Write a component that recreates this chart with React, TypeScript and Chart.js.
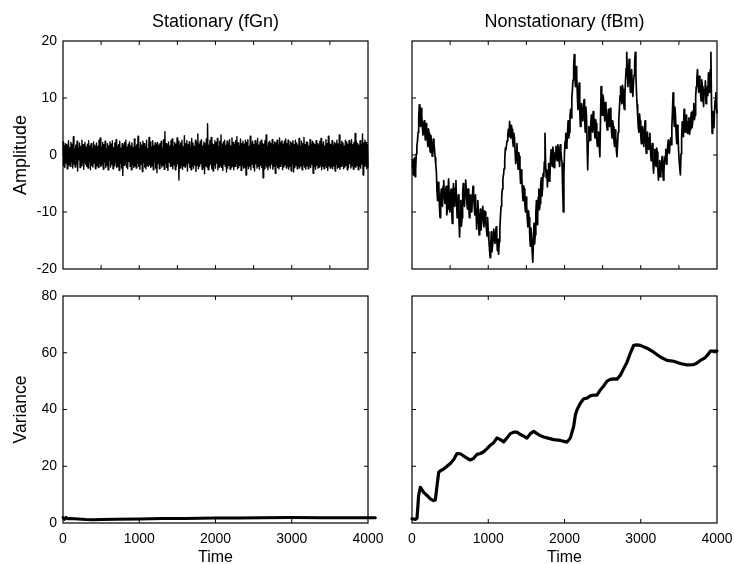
import React, { useEffect, useRef } from 'react';
import { Chart, registerables } from 'chart.js';

Chart.register(...registerables);
Chart.defaults.font.family = "'Liberation Sans', Arial, Helvetica, sans-serif";
Chart.defaults.color = '#000';

// ---------------- data ----------------
const panelTitles = ['Stationary (fGn)', 'Nonstationary (fBm)'];
const yAxisTitles = ['Amplitude', 'Variance'];
const xAxisTitle = 'Time';

// stationary fractional Gaussian noise, one value every FGN_STEP samples
const FGN_STEP = 8;
const fgnValues = [
  2.3, -1.9, 1.6, -2.2, 2.0, -1.4, 1.8, -2.4, 0.9, 2.5, -1.7, 1.3, -2.0, 2.2, -1.2, 1.9, -2.3, 3.2, -1.6, 1.1,
  -2.1, 1.7, -1.5, 2.4, -2.8, 1.2, -0.8, 2.1, -2.2, 1.5, -1.9, 2.6, -1.3, 1.8, -2.5, 0.7, 2.2, -1.6, 1.4, -2.0,
  1.9, -2.3, 2.5, -1.1, 1.6, -2.6, 2.0, -1.8, 1.2, -2.1, 2.3, -1.4, 1.7, -2.4, 0.8, 2.1, -1.9, 1.5, -2.2, 2.6,
  -1.5, 3.0, -2.0, 1.4, -1.7, 2.2, -2.5, 1.8, -1.2, 2.4, -2.2, 1.1, -1.8, 2.0, -2.6, 1.6, -0.9, 2.3, -2.1, 1.9,
  -1.6, 2.5, -2.4, 1.3, -1.9, 2.1, -1.3, 2.7, -2.2, 1.5, -2.0, 1.8, -2.7, 2.4, -1.4, 1.2, -2.3, 2.0, -3.6, 1.7,
  -1.8, 2.2, -1.5, 2.6, -2.1, 1.4, -2.4, 1.9, -1.1, 2.3, -2.0, 1.6, -2.6, 2.1, -1.7, 1.3, -2.2, 2.8, -1.9, 1.5,
  -2.3, 1.8, -1.4, 3.3, -2.0, 1.2, -2.5, 2.2, -1.6, 1.7, -2.9, 2.4, -1.3, 2.0, -2.1, 1.5, -2.4, 2.6, -1.8, 1.1,
  -2.0, 3.1, -1.7, 2.3, -2.2, 1.4, -1.9, 2.5, -2.6, 1.6, -1.2, 2.1, -2.3, 1.9, -3.1, 2.2, -1.5, 1.7, -2.4, 2.0,
  -1.6, 2.4, -2.1, 1.3, -1.8, 2.7, -2.5, 4.1, -1.4, 2.0, -2.2, 1.8, -2.7, 2.3, -1.3, 1.6, -2.0, 2.5, -1.9, 2.8,
  -2.4, 1.5, -1.7, 2.2, -2.6, 1.9, -2.0, 3.0, -1.5, 2.4, -4.4, 1.7, -2.3, 2.1, -1.8, 2.6, -2.5, 1.4, -1.9, 3.4,
  -2.1, 2.0, -1.6, 2.5, -2.8, 1.8, -1.4, 2.3, -2.2, 1.6, -2.6, 2.9, -1.9, 2.1, -2.3, 1.5, -1.7, 2.6, -2.9, 2.2,
  -1.8, 3.7, -2.4, 1.9, -2.0, 2.4, -1.5, 2.7, -2.5, 1.6, -2.2, 2.3, -3.3, 2.0, -1.9, 2.8, -2.1, 5.5, -2.6, 1.7,
  -2.0, 2.6, -1.6, 3.1, -2.4, 2.0, -2.8, 1.8, -1.7, 2.5, -2.3, 2.2, -1.4, 2.9, -2.6, 1.5, -2.1, 2.4, -1.8, 3.5,
  -2.2, 1.9, -2.7, 2.3, -1.6, 2.6, -2.0, 1.7, -3.0, 2.4, -2.3, 2.0, -1.8, 2.7, -2.5, 1.6, -2.1, 3.0, -1.9, 2.2,
  -2.6, 1.8, -2.0, 2.5, -1.5, 3.2, -2.4, 2.1, -2.2, 1.6, -1.8, 2.8, -2.7, 2.0, -1.7, 2.4, -2.3, 1.9, -2.1, 2.6,
  -3.5, 2.2, -1.9, 2.7, -2.4, 1.5, -2.0, 3.3, -2.6, 2.1, -1.6, 2.4, -2.2, 1.8, -2.8, 2.5, -1.5, 2.0, -2.3, 2.9,
  -2.0, 1.7, -2.5, 2.3, -1.8, 2.6, -2.2, 2.0, -4.0, 1.9, -2.4, 2.5, -1.7, 3.5, -2.1, 1.6, -2.6, 2.2, -1.9, 2.4,
  -2.3, 2.0, -1.6, 2.7, -2.5, 1.8, -2.0, 2.3, -3.2, 2.1, -1.8, 2.6, -2.2, 1.7, -2.4, 3.0, -2.0, 2.2, -1.5, 2.5,
  -2.6, 1.9, -2.1, 2.4, -1.7, 2.8, -2.3, 2.0, -1.9, 2.6, -2.5, 1.6, -2.0, 2.3, -2.8, 2.1, -1.6, 2.5, -3.0, 1.8,
  -2.2, 2.6, -1.8, 2.1, -2.4, 1.7, -2.0, 2.9, -2.3, 1.5, -1.9, 2.4, -2.6, 2.0, -1.7, 3.1, -2.1, 1.8, -2.5, 2.3,
  -1.9, 2.2, -2.4, 1.6, -2.0, 2.7, -2.2, 1.9, -1.6, 2.4, -3.2, 2.1, -2.0, 1.8, -2.5, 2.5, -1.8, 2.0, -2.3, 1.7,
  -2.1, 2.4, -1.7, 2.9, -2.6, 1.9, -2.0, 2.3, -2.4, 1.6, -1.8, 2.7, -2.2, 2.0, -2.7, 3.3, -1.9, 2.1, -2.3, 1.8,
  -2.0, 2.5, -2.4, 1.7, -1.9, 2.2, -2.8, 2.0, -1.6, 2.6, -2.3, 1.9, -2.1, 3.5, -2.5, 1.8, -2.0, 2.4, -1.7, 2.1,
  -2.4, 1.6, -2.1, 2.6, -1.8, 2.3, -2.6, 1.9, -2.2, 2.5, -1.5, 2.0, -2.3, 2.7, -1.9, 1.8, -2.5, 2.2, -2.0, 3.8,
  -2.2, 2.4, -1.8, 2.0, -2.6, 1.7, -2.0, 2.5, -2.3, 1.9, -1.6, 3.7, -3.5, 2.1, -2.0, 2.6, -1.7, 2.2, -2.4, 1.8,
  -2.1, 2.5, -1.9, 2.0, -2.5, 1.7, -2.2, 3.2, -1.8, 2.3, -2.0, 1.9, 0.5,
];

// nonstationary fractional Brownian motion, one value every FBM_STEP samples
const FBM_STEP = 8;
const fbmValues = [
  -2, -0.8, -3.5, -1.5, -0.5, -3.8, -2.5, 0.2, 1.5, 2.5, 4, 6.5, 8.8, 6.2, 5, 8.2, 7, 4.8, 3.5, 5.2,
  6, 3.8, 2.6, 5.5, 4.5, 2.8, 1.5, 4.6, 3.8, 1.2, 0.5, 3.4, 2.2, -0.2, 0, 2.8, 2, 0.8, -0.5, -1.8,
  -3, -6.5, -8, -4.8, -5.5, -9, -11, -7.5, -6, -8, -9, -5.5, -4.5, -7.2, -8.5, -6.5, -5.5, -10.5, -9.5, -6.8,
  -4.2, -7.5, -10, -7.8, -6, -9.5, -12, -8, -5, -7.8, -9, -5.8, -4.5, -8.2, -11, -8.6, -7, -11.5, -14.4, -10,
  -8, -12.5, -11, -7, -5, -6.8, -9, -6.5, -4.4, -6, -8.5, -9.5, -6, -8.2, -11, -8.4, -7, -9, -10, -7.2,
  -5.5, -7, -9, -10.5, -7, -9.6, -13, -10.4, -8, -11, -14, -11.8, -9.5, -13.2, -12, -10.2, -9, -11.2, -12.6, -9.8,
  -10, -11.8, -13, -14.2, -11, -13.5, -15, -16.5, -18, -15.8, -13.5, -17, -16, -14.4, -13, -14.8, -15.5, -13.8, -12.6, -15,
  -16.8, -14.8, -17.4, -15.2, -13, -10.8, -9, -7.5, -6, -4.2, -3.5, -2.4, -1, 1.2, 0.9, 1.8, 2.5, 3.6, 4.5, 3.2,
  5.9, 4.2, 3, 5.2, 4.5, 2.6, 1.5, 3.8, 3, 0.6, -1.5, 0.8, 2, -0.8, -2.5, 0.4, -0.3, -2.8, -5, -2.6,
  -4, -6.4, -8, -5.4, -6, -8.6, -10, -7.4, -9, -11.2, -12.6, -9.8, -11, -14, -16, -12.8, -14, -17, -18.8, -15.5,
  -12, -15.6, -14, -10.2, -8, -12.2, -11, -7.4, -6, -9.6, -8.5, -5.2, -4, -7.2, -6, -3.2, -3.8, -1.2, 3.8, -1.5,
  -4, -2.6, -5.6, -3, -1.5, -4.6, -4, -0.8, 0.9, -1.2, -2, 1.4, 0.5, -2.2, -1.5, 0.4, 1.5, -0.6, -1, 1.8,
  1.2, -0.8, -2, 1.8, 0.8, -0.6, -1.5, -6, -10, -3.5, 0.5, 2.4, 3.8, 1.2, 2, 4.2, 6, 3, 4, 6.8,
  8, 6.5, 10, 11.5, 13.2, 15.5, 17.6, 13.8, 12, 15.5, 14, 10.8, 8, 10.5, 12.6, 7.8, 5, 7.5, 9, 6.2,
  6, 8.2, 9.7, 6.6, 4, 8.4, 7, 2.2, -2.6, 2.4, 5, 3.6, 2.6, 5.4, 7, 5.2, 4, 7.6, 6.8, 4.4,
  3, 6.2, 5.5, 2.6, 1.5, 3, 4, 1.4, -0.3, 6, 12, 8.4, 7, 10.5, 9.7, 7.4, 6, 9.2, 8.5, 5.6,
  4.4, 6.6, 8, 5.8, 5, 8.2, 7, 4.2, 3, 6, 5, 2.6, 1.5, 4.4, 3.5, 0.8, -0.3, 2, 4, 6.2,
  8, 10.4, 12, 9.8, 9, 12.2, 11.5, 9.2, 8, 10.6, 13, 15.2, 18, 14.6, 12, 15, 16.8, 13.2, 11, 13.8,
  15, 12.4, 10.3, 12.6, 14, 16.2, 18, 14.2, 11, 8.8, 6.8, 4.8, 4, 7.2, 6, 3.4, 2, 4.2, 5, 2.8,
  1.5, 4.2, 6, 2.4, 0.3, 2.6, 4, 1.8, 1, 3, 3.8, 0.8, -1, 0.4, 2, -1.2, -3.2, -0.8, 1, -1.4,
  -2, 1.2, 0.5, -2.2, -4.4, -2.4, -1, -3.8, -3, -1.4, -0.3, -2.6, -4.4, -2.8, -1, -0.2, 1, -1.6, -0.5, 1.4,
  2.6, 0.4, 0.3, 2.2, 3, 1.8, 5, 7.6, 10.9, 7.2, 5, 8.4, 6.8, 3.8, 2, 5.2, 4, 0.8, -1, -2.4,
  -3.5, 0.2, 3, 5.8, 5, 3.2, 8, 5.6, 4, 6.2, 7, 4.8, 3.8, 5.8, 6.5, 3.6, 4.5, 6.4, 7.5, 4.8,
  5.5, 7.8, 9, 6.2, 7, 10.2, 12, 13.4, 15, 12.6, 11, 13.8, 12.6, 10.8, 9.5, 13.2, 12, 10, 8.5, 11.5,
  11, 13, 9, 10.8, 12, 10.4, 14.4, 12.2, 11, 15, 18, 9, 3.8, 7.6, 6, 4.8, 8, 9.6, 10.9, 8.2,
  7.4, 11.2, 10, 7.2, 6, 9.4, 8, 5.2, 4, 7.4, 6.5, 4, 2,
];

// running variance of the stationary series
const varStatTimes = [0, 20, 40, 60, 100, 200, 300, 400, 500, 700, 1000, 1300, 1600, 2000, 2300, 2600, 3000, 3400, 3800, 4096];
const varStatValues = [1.9, 1.3, 2.0, 1.5, 1.6, 1.4, 1.2, 1.15, 1.2, 1.3, 1.45, 1.55, 1.6, 1.75, 1.8, 1.85, 1.9, 1.85, 1.85, 1.85];

// running variance of the nonstationary series
const varNonTimes = [
  0, 44, 66, 87, 109, 153, 197, 240, 284, 306, 328, 350, 372, 415, 459, 503, 547, 590, 634, 678,
  721, 765, 809, 853, 896, 940, 984, 1027, 1071, 1115, 1159, 1202, 1246, 1290, 1333, 1377, 1421, 1465, 1508, 1552,
  1596, 1640, 1683, 1727, 1771, 1858, 1946, 2033, 2077, 2120, 2142, 2164, 2208, 2252, 2295, 2339, 2383, 2426, 2470, 2514,
  2558, 2601, 2645, 2689, 2732, 2776, 2820, 2864, 2907, 2951, 2995, 3082, 3170, 3257, 3345, 3432, 3519, 3607, 3694, 3738,
  3782, 3847, 3891, 3913, 3957, 4000, 4096,
];
const varNonValues = [
  1.5, 1.3, 1.7, 9.7, 12.6, 10.8, 9.7, 8.5, 7.9, 8.1, 13.1, 17.8, 18.4, 19, 20, 21, 22.4, 24.5, 24.4, 23.6,
  22.9, 22.2, 22.8, 24.2, 24.5, 25.1, 26.2, 27.4, 28.3, 30, 29.4, 28.6, 30, 31.5, 32, 32, 31.2, 30.6, 29.9, 31.5,
  32.3, 31.5, 30.8, 30.3, 30, 29.4, 29.1, 28.5, 30, 34, 38, 39.9, 42.2, 43.8, 44, 44.8, 45.1, 45.1, 46.9, 48.3,
  50, 50.6, 50.8, 50.7, 52.1, 54.4, 56.7, 59.9, 62.6, 62.8, 62.6, 61.6, 60.2, 58.5, 57.3, 57, 56.2, 55.7, 55.8, 56.4,
  57.3, 58.3, 59.7, 60.6, 60.6, 60.6, 60.3,
];

// axes
const X_MAX = 4000;
const topXTickStep = 500;
const bottomXTickStep = 1000;
const ampRange = [-20, 20];
const ampTickStep = 10;
const varRange = [0, 80];
const varTickStep = 20;

// ---------------- chart building ----------------
const W = 734;
const H = 564;

type Area = { left: number; top: number; right: number; bottom: number };
type Panel = {
  area: Area;
  points: { x: number; y: number }[];
  lineWidth: number;
  yRange: number[];
  yStep: number;
  xStep: number;
  showXLabels: boolean;
  showYLabels: boolean;
  title?: string;
  yTitle?: string;
  yTitleSize?: number;
  xTitle?: string;
};

const boxPlugin = {
  id: 'matlabBox',
  afterDraw(chart: any) {
    const { ctx, chartArea: a, scales } = chart;
    const len = 4;
    ctx.save();
    ctx.strokeStyle = '#000';
    ctx.lineWidth = 1.2;
    ctx.strokeRect(a.left, a.top, a.right - a.left, a.bottom - a.top);
    ctx.lineWidth = 1;
    ctx.beginPath();
    scales.x.ticks.forEach((t: any) => {
      const px = scales.x.getPixelForValue(t.value);
      if (px <= a.left + 1 || px >= a.right - 1) return;
      ctx.moveTo(px, a.bottom);
      ctx.lineTo(px, a.bottom - len);
      ctx.moveTo(px, a.top);
      ctx.lineTo(px, a.top + len);
    });
    scales.y.ticks.forEach((t: any) => {
      const py = scales.y.getPixelForValue(t.value);
      if (py <= a.top + 1 || py >= a.bottom - 1) return;
      ctx.moveTo(a.left, py);
      ctx.lineTo(a.left + len, py);
      ctx.moveTo(a.right, py);
      ctx.lineTo(a.right - len, py);
    });
    ctx.stroke();
    ctx.restore();
  },
};

function makeConfig(p: Panel): any {
  const yWidth = p.showYLabels ? p.area.left : 0;
  const xHeight = p.showXLabels ? H - p.area.bottom : 0;
  const padTop = p.title ? 11.5 : p.area.top;
  const yTitleSize = p.yTitleSize || 17;
  return {
    type: 'line',
    data: {
      datasets: [
        {
          data: p.points,
          borderColor: '#000',
          borderWidth: p.lineWidth,
          pointRadius: 0,
          fill: false,
          tension: 0,
          clip: false,
          borderJoinStyle: 'round',
          borderCapStyle: 'round',
        },
      ],
    },
    options: {
      animation: false,
      responsive: false,
      devicePixelRatio: 1,
      events: [],
      layout: {
        padding: {
          left: p.showYLabels ? 0 : p.area.left,
          right: W - p.area.right,
          top: padTop,
          bottom: p.showXLabels ? 0 : H - p.area.bottom,
        },
      },
      plugins: {
        legend: { display: false },
        tooltip: { enabled: false },
        title: {
          display: !!p.title,
          text: p.title || '',
          fullSize: false,
          color: '#000',
          font: { size: 18, weight: 'normal' },
          padding: { top: 0, bottom: 7.9 },
        },
      },
      scales: {
        x: {
          type: 'linear',
          min: 0,
          max: X_MAX,
          grid: { display: false, drawTicks: false },
          border: { display: false },
          ticks: {
            display: p.showXLabels,
            stepSize: p.xStep,
            autoSkip: false,
            maxRotation: 0,
            padding: 7.5,
            font: { size: 14 },
            color: '#000',
            callback: (v: number) => String(v),
          },
          title: {
            display: !!p.xTitle,
            text: p.xTitle || '',
            color: '#000',
            font: { size: 16 },
            padding: { top: 0, bottom: -2.9 },
          },
          afterFit: (s: any) => {
            s.height = xHeight;
            s.paddingLeft = 0;
            s.paddingRight = 0;
          },
        },
        y: {
          type: 'linear',
          min: p.yRange[0],
          max: p.yRange[1],
          grid: { display: false, drawTicks: false },
          border: { display: false },
          ticks: {
            display: p.showYLabels,
            stepSize: p.yStep,
            padding: 6,
            font: { size: 14 },
            color: '#000',
            callback: (v: number) => String(v),
          },
          title: {
            display: !!p.yTitle,
            text: p.yTitle || '',
            color: '#000',
            font: { size: yTitleSize },
            padding: { top: 20.8 - yTitleSize * 0.6, bottom: 0 },
          },
          afterFit: (s: any) => {
            s.width = yWidth;
            s.paddingTop = 0;
            s.paddingBottom = 0;
          },
        },
      },
    },
    plugins: [boxPlugin],
  };
}

const toPoints = (xs: number[], ys: number[]) => ys.map((y, i) => ({ x: xs[i], y }));
const stepTimes = (n: number, step: number) => Array.from({ length: n }, (_, i) => i * step);

const LEFT = { left: 63, right: 368 };
const RIGHT = { left: 412, right: 717 };
const TOP = { top: 41, bottom: 269 };
const BOTTOM = { top: 296, bottom: 523 };

const panels: Panel[] = [
  {
    area: { ...LEFT, ...TOP },
    points: toPoints(stepTimes(fgnValues.length, FGN_STEP), fgnValues),
    lineWidth: 1.4,
    yRange: ampRange,
    yStep: ampTickStep,
    xStep: topXTickStep,
    showXLabels: false,
    showYLabels: true,
    title: panelTitles[0],
    yTitle: yAxisTitles[0],
    yTitleSize: 18,
  },
  {
    area: { ...RIGHT, ...TOP },
    points: toPoints(stepTimes(fbmValues.length, FBM_STEP), fbmValues),
    lineWidth: 1.7,
    yRange: ampRange,
    yStep: ampTickStep,
    xStep: topXTickStep,
    showXLabels: false,
    showYLabels: false,
    title: panelTitles[1],
  },
  {
    area: { ...LEFT, ...BOTTOM },
    points: toPoints(varStatTimes, varStatValues),
    lineWidth: 3,
    yRange: varRange,
    yStep: varTickStep,
    xStep: bottomXTickStep,
    showXLabels: true,
    showYLabels: true,
    yTitle: yAxisTitles[1],
    yTitleSize: 17.5,
    xTitle: xAxisTitle,
  },
  {
    area: { ...RIGHT, ...BOTTOM },
    points: toPoints(varNonTimes, varNonValues),
    lineWidth: 3.2,
    yRange: varRange,
    yStep: varTickStep,
    xStep: bottomXTickStep,
    showXLabels: true,
    showYLabels: false,
    xTitle: xAxisTitle,
  },
];

function PanelCanvas({ panel }: { panel: Panel }) {
  const ref = useRef<HTMLCanvasElement | null>(null);
  useEffect(() => {
    if (!ref.current) return;
    const chart = new Chart(ref.current, makeConfig(panel));
    return () => chart.destroy();
  }, [panel]);
  return (
    <canvas
      ref={ref}
      width={W}
      height={H}
      style={{ position: 'absolute', left: 0, top: 0, width: W, height: H }}
    />
  );
}

export default function App() {
  return (
    <div
      style={{
        position: 'absolute',
        left: 0,
        top: 0,
        width: W,
        height: H,
        overflow: 'hidden',
        background: '#fff',
      }}
    >
      {panels.map((p, i) => (
        <PanelCanvas key={i} panel={p} />
      ))}
    </div>
  );
}
